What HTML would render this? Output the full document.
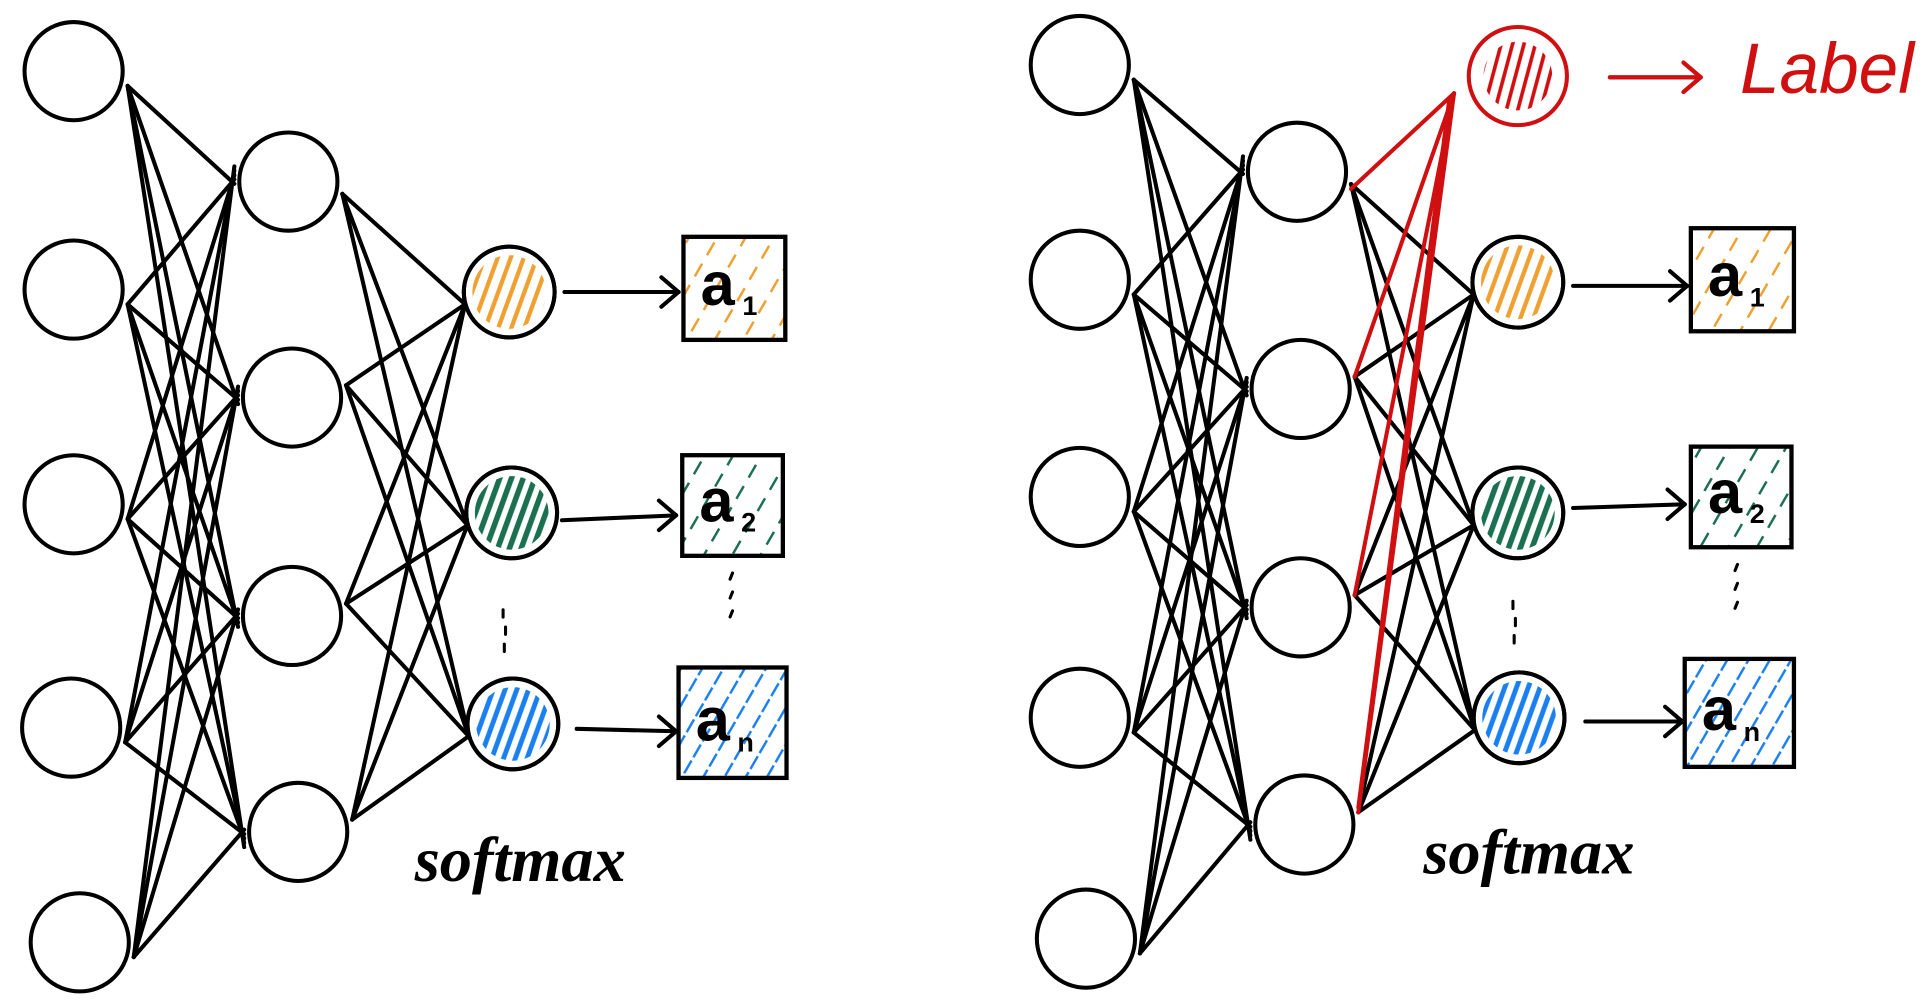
<!DOCTYPE html>
<html><head><meta charset="utf-8"><style>
html,body{margin:0;padding:0;background:#fff;width:1924px;height:1000px;overflow:hidden}
svg{display:block}
</style></head><body>
<svg id="s" width="1924" height="1000" viewBox="0 0 1568 815" preserveAspectRatio="none" xmlns="http://www.w3.org/2000/svg">
<defs>
<pattern id="po" width="10" height="10" patternUnits="userSpaceOnUse" patternTransform="rotate(20)"><line x1="3" y1="0" x2="3" y2="10" stroke="#f0a030" stroke-width="3.5"/></pattern>
<pattern id="pg" width="9" height="9" patternUnits="userSpaceOnUse" patternTransform="rotate(20)"><line x1="3" y1="0" x2="3" y2="9" stroke="#1a7050" stroke-width="4.5"/></pattern>
<pattern id="pb" width="9" height="9" patternUnits="userSpaceOnUse" patternTransform="rotate(20)"><line x1="3" y1="0" x2="3" y2="9" stroke="#1a80f0" stroke-width="4"/></pattern>
<pattern id="pr" width="9" height="9" patternUnits="userSpaceOnUse" patternTransform="rotate(15)"><line x1="3" y1="0" x2="3" y2="9" stroke="#d01010" stroke-width="3"/></pattern>
<pattern id="bo" width="20" height="20" patternUnits="userSpaceOnUse" patternTransform="rotate(30)"><line x1="3" y1="0" x2="3" y2="12" stroke="#f0a030" stroke-width="2"/></pattern>
<pattern id="bg" width="20" height="20" patternUnits="userSpaceOnUse" patternTransform="rotate(30)"><line x1="3" y1="0" x2="3" y2="12" stroke="#1a7050" stroke-width="2"/></pattern>
<pattern id="bb" width="15" height="15" patternUnits="userSpaceOnUse" patternTransform="rotate(30)"><line x1="3" y1="0" x2="3" y2="12" stroke="#1a80f0" stroke-width="2"/></pattern>
</defs>
<g id="g" stroke="#000" stroke-width="3" fill="none" stroke-linecap="round"></g>
</svg>
<script>
var g=document.getElementById('g'),NS='http://www.w3.org/2000/svg';
function el(t,a){var e=document.createElementNS(NS,t);for(var k in a)e.setAttribute(k,a[k]);g.appendChild(e);return e;}
function L(a,b,c,d,col,w){el('line',{x1:a,y1:b,x2:c,y2:d,stroke:col||'#000','stroke-width':w||3.3});}
function C(x,y,r,f,col){el('circle',{cx:x,cy:y,r:r,fill:f||'#fff',stroke:col||'#000','stroke-width':3.3});}
function draw(o){
 var inp=o.inp,hid=o.hid,out=o.out;
 inp.forEach(function(p){hid.forEach(function(h){L(p[0]+44,p[1]+12,h[0]-44,h[1]+(h[1]-p[1])*0.02);});});
 hid.forEach(function(h){out.forEach(function(q){L(h[0]+44,h[1]+(out[0][1]>h[1]?10:-10),q[0]-36,q[1]+10);});});
 if(o.red){var r=o.red;hid.forEach(function(h,i){L(r[0]-52,r[1]+14,h[0]+44,h[1]+(i==0?14:-10),'#d01010',3.3);});L(r[0]-56,r[1]+20,hid[3][0]+44,hid[3][1]-14,'#d01010',3.3);}
 inp.forEach(function(p){C(p[0],p[1],40);});
 hid.forEach(function(p){C(p[0],p[1],40);});
 var fills=['url(#po)','url(#pg)','url(#pb)'],bf=['url(#bo)','url(#bg)','url(#bb)'],lab=['1','2','n'];
 out.forEach(function(p,i){C(p[0],p[1],37,'#fff');C(p[0],p[1],30,fills[i],'none');el('circle',{cx:p[0],cy:p[1],r:37,stroke:'#000','stroke-width':3.3});});
 o.box.forEach(function(b,i){
  el('rect',{x:b[0],y:b[1],width:b[2],height:b[3],fill:bf[i],stroke:'#000','stroke-width':3.5});
  var t=el('text',{x:b[0]+14,y:b[1]+b[3]*0.66,fill:'#000',stroke:'none','font-family':'Liberation Sans, sans-serif','font-size':'50','font-weight':'bold'});t.textContent='a';
  var s=el('text',{x:b[0]+48,y:b[1]+b[3]*0.76,fill:'#000',stroke:'none','font-family':'Liberation Sans, sans-serif','font-size':'22','font-weight':'bold'});s.textContent=lab[i];
 });
 o.arr.forEach(function(a){L(a[0],a[1],a[2],a[3]);L(a[2],a[3],a[2]-14,a[3]-12);L(a[2],a[3],a[2]-14,a[3]+12);});
 [[0,0],[2,14],[1,28]].forEach(function(d){L(o.d1[0]+d[0],o.d1[1]+d[1],o.d1[0]+d[0],o.d1[1]+d[1]+6,'#000',2.5);L(o.d2[0],o.d2[1]+d[1]*1.1,o.d2[0]-2,o.d2[1]+d[1]*1.1+5,'#000',2.5);});
 var t=el('text',{x:o.sm[0],y:o.sm[1],fill:'#000',stroke:'none','font-family':'Liberation Serif, serif','font-size':'52','font-style':'italic','font-weight':'bold','textLength':172,'lengthAdjust':'spacingAndGlyphs'});t.textContent='softmax';
}
draw({inp:[[60,58],[60,236],[60,411],[58,593],[65,768]],hid:[[235,148],[238,324],[238,502],[243,678]],out:[[415,238],[417,418],[418,590]],
 box:[[557,193,83,84],[556,371,82,82],[553,544,88,90]],arr:[[460,238,553,238],[458,424,551,420],[470,594,551,596]],d1:[410,497],d2:[597,467],sm:[338,718]});
draw({inp:[[880,53],[880,228],[880,405],[880,585],[885,765]],hid:[[1057,140],[1060,317],[1060,495],[1063,672]],out:[[1237,230],[1237,418],[1238,585]],
 box:[[1378,186,84,84],[1378,364,82,82],[1373,537,89,88]],arr:[[1282,233,1375,233],[1282,414,1373,411],[1292,588,1371,588]],d1:[1233,490],d2:[1416,460],sm:[1160,712],red:[1237,62]});
el('circle',{cx:1237,cy:62,r:40,fill:'#fff',stroke:'#d01010','stroke-width':3.3});
el('circle',{cx:1237,cy:62,r:28,fill:'url(#pr)',stroke:'none'});
L(1312,63,1386,63,'#d01010',3.5);L(1386,63,1372,51,'#d01010',3.5);L(1386,63,1372,75,'#d01010',3.5);
var t=el('text',{x:1418,y:76,fill:'#d01010',stroke:'none','font-family':'Liberation Sans, sans-serif','font-size':'58','font-style':'italic'});t.textContent='Label';
</script>
</body></html>
